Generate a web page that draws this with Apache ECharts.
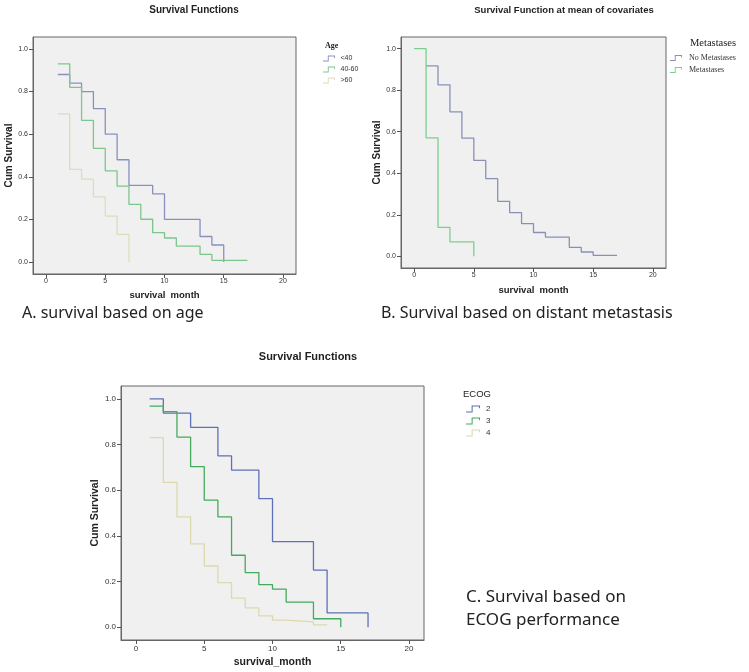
<!DOCTYPE html>
<html>
<head>
<meta charset="utf-8">
<script src="https://cdn.jsdelivr.net/npm/echarts@6/dist/echarts.min.js"></script>
<style>
html, body { margin: 0; padding: 0; background: #fff; }
#chart { width: 749px; height: 672px; }
</style>
</head>
<body>
<div id="chart"></div>
<script>
// tick labels shared by all three plots
const xTicks = [0, 5, 10, 15, 20]
const yTicks = [0, 0.2, 0.4, 0.6, 0.8, 1.0]

// A. age groups (month of each step, survival after it)
const ageLt40Month = [1, 2, 3, 4, 5, 6, 7, 9, 10, 13, 14, 15]
const ageLt40Surv = [0.88, 0.84, 0.80, 0.72, 0.60, 0.48, 0.36, 0.32, 0.20, 0.12, 0.08, 0.00]
const age4060Month = [1, 2, 3, 4, 5, 6, 7, 8, 9, 10, 11, 13, 14, 17]
const age4060Surv = [0.93, 0.82, 0.665, 0.533, 0.428, 0.356, 0.271, 0.201, 0.138, 0.113, 0.075, 0.036, 0.008, 0.008]
const ageGt60Month = [1, 2, 3, 4, 5, 6, 7]
const ageGt60Surv = [0.695, 0.435, 0.389, 0.306, 0.216, 0.13, 0.00]

// B. distant metastasis
const noMetMonth = [1, 2, 3, 4, 5, 6, 7, 8, 9, 10, 11, 13, 14, 15, 17]
const noMetSurv = [0.917, 0.826, 0.696, 0.569, 0.462, 0.374, 0.265, 0.211, 0.158, 0.115, 0.093, 0.043, 0.021, 0.005, 0.005]
const metMonth = [0, 1, 2, 3, 5]
const metSurv = [1.0, 0.57, 0.14, 0.07, 0.00]

// C. ECOG performance
const ecog2Month = [1, 2, 4, 6, 7, 9, 10, 13, 14, 17]
const ecog2Surv = [1.0, 0.9375, 0.875, 0.75, 0.6875, 0.5625, 0.375, 0.25, 0.0625, 0.0]
const ecog3Month = [1, 2, 3, 4, 5, 6, 7, 8, 9, 10, 11, 13, 15]
const ecog3Surv = [0.968, 0.944, 0.832, 0.703, 0.556, 0.483, 0.315, 0.239, 0.186, 0.167, 0.11, 0.037, 0.0]
const ecog4Month = [1, 2, 3, 4, 5, 6, 7, 8, 9, 10, 11, 13, 14]
const ecog4Surv = [0.83, 0.634, 0.483, 0.365, 0.268, 0.195, 0.127, 0.085, 0.05, 0.031, 0.023, 0.01, 0.007]

const sans = 'Liberation Sans'
const serif = 'Liberation Serif'
// little SPSS style step icon for the legends
const stepIcon = 'path://M0,8.5L8,8.5L8,0L20,0L20,4L18.5,4L18.5,1.5L9.5,1.5L9.5,10L0,10Z'

function stepSeries(name, months, surv, color, idx) {
    return {
        name: name,
        type: 'line',
        step: 'end',
        xAxisIndex: idx,
        yAxisIndex: idx,
        data: months.map((m, i) => [m, surv[i]]),
        symbol: 'none',
        itemStyle: { color: color },
        lineStyle: { color: color, width: 1.3 },
        silent: true
    }
}

function xAxisFor(idx, name, gap, nameSize, labelSize, margin) {
    return {
        type: 'value', gridIndex: idx, min: -1.1, max: 21.1,
        name: name, nameLocation: 'middle', nameGap: gap,
        nameTextStyle: { fontFamily: sans, fontWeight: 'bold', fontSize: nameSize, color: '#222' },
        // keep the axis on the bottom edge of the box
        axisLine: { show: true, onZero: false, lineStyle: { color: '#666' } },
        axisTick: { show: true, length: 4, customValues: xTicks, lineStyle: { color: '#555' } },
        axisLabel: { customValues: xTicks, fontFamily: sans, fontSize: labelSize, color: '#333', margin: margin },
        splitLine: { show: false }
    }
}

function yAxisFor(idx, gap, nameSize, labelSize) {
    return {
        type: 'value', gridIndex: idx, min: -0.056, max: 1.056,
        name: 'Cum Survival', nameLocation: 'middle', nameGap: gap,
        nameTextStyle: { fontFamily: sans, fontWeight: 'bold', fontSize: nameSize, color: '#222' },
        axisLine: { show: true, onZero: false, lineStyle: { color: '#666' } },
        axisTick: { show: true, length: 4, customValues: yTicks, lineStyle: { color: '#555' } },
        axisLabel: { customValues: yTicks, formatter: v => v.toFixed(1), fontFamily: sans, fontSize: labelSize, color: '#333', margin: 5 },
        splitLine: { show: false }
    }
}

function gridAt(left, top, width, height) {
    return {
        left: left, top: top, width: width, height: height,
        show: true, backgroundColor: '#f0f0f0', borderColor: '#666', borderWidth: 1,
        outerBoundsMode: 'none'
    }
}

function legendAt(names, left, top, itemW, itemH, gap, font, size) {
    return {
        data: names, orient: 'vertical', left: left, top: top, padding: 0,
        itemWidth: itemW, itemHeight: itemH, itemGap: gap, icon: stepIcon,
        selectedMode: false,
        textStyle: { fontFamily: font, fontSize: size, color: '#333', lineHeight: itemH }
    }
}

function text(str, x, y, font, align) {
    return {
        type: 'text', x: x, y: y, silent: true,
        style: {
            text: str, font: font, fill: '#222',
            textAlign: align || 'center', textVerticalAlign: 'middle',
            align: align || 'center', verticalAlign: 'middle'
        }
    }
}

const chart = echarts.init(document.getElementById('chart'))
chart.setOption({
    animation: false,
    grid: [
        gridAt(33, 37, 263, 237),
        gridAt(401, 37, 265, 231),
        gridAt(121, 386, 303, 254)
    ],
    xAxis: [
        xAxisFor(0, 'survival  month', 16, 9.5, 7, 4),
        xAxisFor(1, 'survival  month', 17, 9.5, 7, 4),
        xAxisFor(2, 'survival_month', 17, 10.5, 8, 5)
    ],
    yAxis: [
        yAxisFor(0, 12, 10, 7),
        yAxisFor(1, 16, 10, 7),
        yAxisFor(2, 18, 10.5, 8)
    ],
    legend: [
        legendAt(['<40', '40-60', '>60'], 323, 55, 13, 6, 4, sans, 7),
        legendAt(['No Metastases', 'Metastases'], 670, 54, 16, 6, 4, serif, 8),
        legendAt(['2', '3', '4'], 466, 405, 16, 7, 4, sans, 8)
    ],
    graphic: [
        text('Survival Functions', 194, 10, 'bold 10px ' + sans),
        text('Survival Function at mean of covariates', 564, 10, 'bold 9.5px ' + sans),
        text('Survival Functions', 308, 357, 'bold 11px ' + sans),
        text('Age', 325, 46, 'bold 8px ' + serif, 'left'),
        text('Metastases', 690, 43, '10.5px ' + serif, 'left'),
        text('ECOG', 463, 394, '9.5px ' + sans, 'left'),
        text('A. survival based on age', 22, 313, '16px Noto Sans', 'left'),
        text('B. Survival based on distant metastasis', 381, 313, '16px Noto Sans', 'left'),
        text('C. Survival based on', 466, 597, '17px Noto Sans', 'left'),
        text('ECOG performance', 466, 620, '17px Noto Sans', 'left')
    ],
    series: [
        stepSeries('<40', ageLt40Month, ageLt40Surv, '#8890c0', 0),
        stepSeries('40-60', age4060Month, age4060Surv, '#7cc68c', 0),
        stepSeries('>60', ageGt60Month, ageGt60Surv, '#dcdcbe', 0),
        stepSeries('No Metastases', noMetMonth, noMetSurv, '#8890b8', 1),
        stepSeries('Metastases', metMonth, metSurv, '#7ccf8a', 1),
        stepSeries('2', ecog2Month, ecog2Surv, '#5e70b8', 2),
        stepSeries('3', ecog3Month, ecog3Surv, '#44aa5c', 2),
        stepSeries('4', ecog4Month, ecog4Surv, '#dcd9ae', 2)
    ]
})
</script>
</body>
</html>
